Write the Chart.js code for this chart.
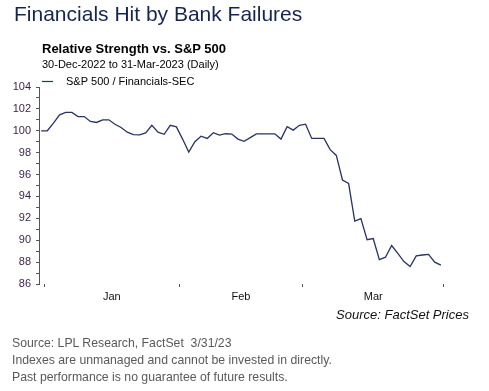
<!DOCTYPE html>
<html>
<head>
<meta charset="utf-8">
<script src="https://cdn.jsdelivr.net/npm/chart.js@4/dist/chart.umd.min.js"></script>
<style>
  html, body { margin: 0; padding: 0; background: #fff; }
  #wrap { position: relative; width: 489px; height: 391px; overflow: hidden; font-family: "Liberation Sans", Arial, sans-serif; }
  #wrap canvas { position: absolute; left: 0; top: 0; }
  .t { position: absolute; white-space: nowrap; }
</style>
</head>
<body>
<div id="wrap">
  <canvas id="c" width="489" height="391"></canvas>
  <div class="t" style="left:14px;top:3px;font-size:21px;line-height:21px;color:#14264f;">Financials Hit by Bank Failures</div>
  <div class="t" style="left:42px;top:42px;font-size:13px;line-height:13px;font-weight:bold;color:#000;">Relative Strength vs. S&amp;P 500</div>
  <div class="t" style="left:42px;top:59px;font-size:11px;line-height:11px;color:#000;">30-Dec-2022 to 31-Mar-2023 (Daily)</div>
  <div class="t" style="right:20px;top:308px;font-size:13px;line-height:13px;font-style:italic;color:#111;">Source: FactSet Prices</div>
  <div class="t" style="left:12px;top:336.5px;font-size:12.25px;line-height:12px;color:#595959;">Source: LPL Research, FactSet&nbsp; 3/31/23</div>
  <div class="t" style="left:12px;top:353.8px;font-size:12.25px;line-height:12px;color:#595959;">Indexes are unmanaged and cannot be invested in directly.</div>
  <div class="t" style="left:12px;top:370.8px;font-size:12.25px;line-height:12px;color:#595959;">Past performance is no guarantee of future results.</div>
</div>
<script>
// Trading weekdays (categories)
const dates = [
  '2022-12-30',
  '2023-01-02','2023-01-03','2023-01-04','2023-01-05','2023-01-06',
  '2023-01-09','2023-01-10','2023-01-11','2023-01-12','2023-01-13',
  '2023-01-16','2023-01-17','2023-01-18','2023-01-19','2023-01-20',
  '2023-01-23','2023-01-24','2023-01-25','2023-01-26','2023-01-27',
  '2023-01-30','2023-01-31',
  '2023-02-01','2023-02-02','2023-02-03',
  '2023-02-06','2023-02-07','2023-02-08','2023-02-09','2023-02-10',
  '2023-02-13','2023-02-14','2023-02-15','2023-02-16','2023-02-17',
  '2023-02-20','2023-02-21','2023-02-22','2023-02-23','2023-02-24',
  '2023-02-27','2023-02-28',
  '2023-03-01','2023-03-02','2023-03-03',
  '2023-03-06','2023-03-07','2023-03-08','2023-03-09','2023-03-10',
  '2023-03-13','2023-03-14','2023-03-15','2023-03-16','2023-03-17',
  '2023-03-20','2023-03-21','2023-03-22','2023-03-23','2023-03-24',
  '2023-03-27','2023-03-28','2023-03-29','2023-03-30','2023-03-31'
];

// S&P 500 / Financials-SEC relative strength
const relStrength = [
  100.0,
  100.0, 100.7, 101.45, 101.68, 101.68,
  101.3, 101.3, 100.85, 100.76, 101.0,
  101.0, 100.6, 100.3, 99.87, 99.65,
  99.62, 99.8, 100.5, 99.87, 99.68,
  100.5, 100.36,
  99.24, 98.05, 99.0,
  99.5, 99.3, 99.82, 99.6, 99.73,
  99.7, 99.24, 99.04, 99.37, 99.72,
  99.72, 99.72, 99.72, 99.24, 100.38,
  100.06, 100.5,
  100.6, 99.3, 99.3,
  99.3, 98.28, 97.75, 95.5, 95.18,
  91.75, 91.97, 90.05, 90.15, 88.22,
  88.45, 89.52, 88.8, 88.05, 87.6,
  88.57, 88.65, 88.7, 88.0, 87.72
];

const seriesLabel = 'S&P 500 / Financials-SEC';
const monthNames = ['Jan', 'Feb', 'Mar'];
const yTickValues = [86, 88, 90, 92, 94, 96, 98, 100, 102, 104];

// Month boundaries (between last day of a month and first day of the next) and label positions
const boundaries = [];
for (let i = 0; i < dates.length; i++) {
  if (i === 0 || dates[i].slice(5, 7) !== dates[i - 1].slice(5, 7)) boundaries.push(i - 0.5);
}
boundaries.push(dates.length - 0.5);
const monthBounds = boundaries.slice(1);
const labelPos = [];
for (let m = 0; m < monthNames.length; m++) labelPos.push((monthBounds[m] + monthBounds[m + 1]) / 2);

const legendPlugin = {
  id: 'lineLegend',
  afterDraw(chart) {
    const ctx = chart.ctx;
    const ds = chart.data.datasets[0];
    ctx.save();
    ctx.strokeStyle = ds.borderColor;
    ctx.lineWidth = 1.2;
    ctx.beginPath();
    ctx.moveTo(42, 81.5);
    ctx.lineTo(53, 81.5);
    ctx.stroke();
    ctx.fillStyle = '#000';
    ctx.font = '11px "Liberation Sans", Arial, sans-serif';
    ctx.textBaseline = 'alphabetic';
    ctx.textAlign = 'left';
    ctx.fillText(ds.label, 66, 84.5);
    ctx.restore();
  }
};

new Chart(document.getElementById('c'), {
  type: 'line',
  data: {
    datasets: [{
      label: seriesLabel,
      data: relStrength.map((v, i) => ({ x: i, y: v })),
      borderColor: '#27355f',
      borderWidth: 1.3,
      pointRadius: 0,
      tension: 0,
      fill: false
    }]
  },
  options: {
    responsive: false,
    animation: false,
    devicePixelRatio: 1,
    layout: { padding: { left: 0, right: 42, top: 87, bottom: 87 } },
    plugins: { legend: { display: false }, title: { display: false }, tooltip: { enabled: false } },
    scales: {
      x: {
        type: 'linear',
        min: -0.35,
        max: 66,
        afterBuildTicks(scale) {
          const t = monthBounds.map(v => ({ value: v }));
          labelPos.forEach(v => t.push({ value: v }));
          t.sort((a, b) => a.value - b.value);
          scale.ticks = t;
        },
        afterFit(scale) { scale.height = 20; },
        ticks: {
          autoSkip: false,
          maxRotation: 0,
          padding: 3,
          color: '#111',
          font: { family: '"Liberation Sans", Arial, sans-serif', size: 11 },
          callback(value) {
            const k = labelPos.indexOf(value);
            return k >= 0 ? monthNames[k] : '';
          }
        },
        grid: {
          display: true,
          drawOnChartArea: false,
          drawTicks: true,
          tickLength: 3,
          tickColor: (ctx) => (ctx.tick && labelPos.indexOf(ctx.tick.value) >= 0) ? 'rgba(0,0,0,0)' : '#555',
          color: 'rgba(0,0,0,0)'
        },
        border: { display: false }
      },
      y: {
        min: 86,
        max: 104,
        afterBuildTicks(scale) {
          const t = [];
          for (let v = 86; v <= 104; v++) t.push({ value: v });
          scale.ticks = t;
        },
        afterFit(scale) { scale.width = 39; },
        ticks: {
          autoSkip: false,
          padding: 5,
          color: '#3a1f48',
          font: { family: '"Liberation Sans", Arial, sans-serif', size: 11 },
          callback(value) { return yTickValues.indexOf(value) >= 0 ? String(value) : ''; }
        },
        grid: {
          display: true,
          drawOnChartArea: false,
          drawTicks: true,
          tickLength: 3,
          tickColor: '#555',
          color: 'rgba(0,0,0,0)'
        },
        border: { display: true, color: '#555', width: 1 }
      }
    }
  },
  plugins: [legendPlugin]
});
</script>
</body>
</html>
